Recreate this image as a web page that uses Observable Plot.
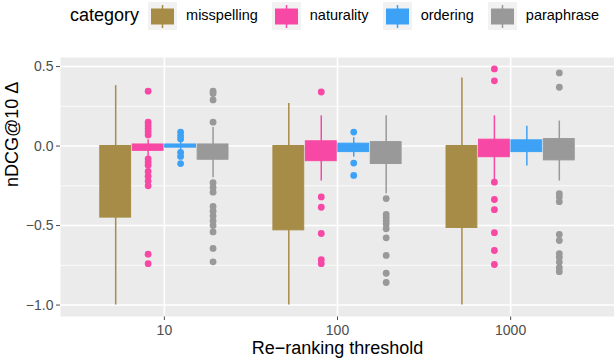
<!DOCTYPE html>
<html>
<head>
<meta charset="utf-8">
<script src="https://cdn.jsdelivr.net/npm/d3@7"></script>
<script src="https://cdn.jsdelivr.net/npm/@observablehq/plot@0.6"></script>
<style>
  html, body { margin: 0; padding: 0; background: #fff; }
  #wrap { width: 614px; font-family: "Liberation Sans", Arial, sans-serif; }
  #legend { display: flex; align-items: center; height: 30px; padding-left: 70px; box-sizing: border-box; }
  #legend .ttl { font-size: 18px; color: #000; margin-right: 9px; }
  #legend .key { width: 29px; height: 28px; background: #F2F2F2; margin-top: 2px; }
  #legend .lab { font-size: 14.5px; color: #000; margin-left: 9px; margin-right: 14px; }
  svg { display: block; }
</style>
</head>
<body>
<div id="wrap">
  <div id="legend"></div>
  <div id="chart"></div>
</div>
<script>
// ---- data ----
const thresholds = ["10", "100", "1000"];
const categories = ["misspelling", "naturality", "ordering", "paraphrase"];
const colors = ["#A68C46", "#F748A5", "#3DA2F6", "#999999"];

// box statistics: one row per category, one value per threshold (10, 100, 1000)
const whiskerLow = [
  [-1.0, -1.0, -1.0],
  [-0.07, -0.22, -0.215],
  [-0.025, -0.07, -0.125],
  [-0.2, -0.3, -0.22]
];
const q1 = [
  [-0.45, -0.53, -0.515],
  [-0.03, -0.095, -0.07],
  [-0.01, -0.038, -0.038],
  [-0.086, -0.113, -0.09]
];
const median = [
  [0.0, 0.0, 0.0],
  [0.0, 0.0, 0.01],
  [0.0, 0.0, 0.0],
  [0.0, 0.0, 0.0]
];
const q3 = [
  [0.0, 0.0, 0.0],
  [0.01, 0.03, 0.04],
  [0.01, 0.015, 0.036],
  [0.01, 0.025, 0.044]
];
const whiskerHigh = [
  [0.38, 0.267, 0.428],
  [0.04, 0.19, 0.19],
  [0.025, 0.053, 0.124],
  [0.116, 0.19, 0.157]
];

// outliers per threshold (10, 100, 1000)
const misspellingOutliers = [[], [], []];
const naturalityOutliers = [
  [0.345, 0.15, 0.13, 0.11, 0.09, 0.07, -0.08, -0.10, -0.12, -0.16, -0.19, -0.22, -0.25, -0.68, -0.74],
  [0.34, -0.32, -0.385, -0.55, -0.715, -0.74],
  [0.485, 0.41, -0.227, -0.336, -0.40, -0.545, -0.657, -0.745]
];
const orderingOutliers = [
  [0.088, 0.065, 0.045, -0.04, -0.065, -0.11],
  [0.088, -0.107, -0.185],
  []
];
const paraphraseOutliers = [
  [0.345, 0.33, 0.29, 0.15, -0.23, -0.26, -0.29, -0.38, -0.41, -0.44, -0.47, -0.50, -0.54, -0.644, -0.728],
  [-0.33, -0.43, -0.45, -0.47, -0.49, -0.52, -0.577, -0.688, -0.80, -0.858],
  [0.46, 0.37, -0.30, -0.32, -0.35, -0.556, -0.594, -0.676, -0.70, -0.73, -0.765, -0.79]
];

const yTicks = [-1.0, -0.5, 0.0, 0.5];
const yMinor = [-0.75, -0.25, 0.25];

// ---- build tables ----
const dodge = 0.1875;      // width of each dodged slot (0.75 / 4)
const halfBox = 0.089;     // half box width
const outlierSets = [misspellingOutliers, naturalityOutliers, orderingOutliers, paraphraseOutliers];

const boxes = [];
const points = [];
thresholds.forEach((t, ti) => {
  categories.forEach((c, ci) => {
    const x = ti + (ci - 1.5) * dodge;
    boxes.push({
      threshold: t, category: c, x,
      lo: whiskerLow[ci][ti], q1: q1[ci][ti], med: median[ci][ti],
      q3: q3[ci][ti], hi: whiskerHigh[ci][ti]
    });
    outlierSets[ci][ti].forEach(v => points.push({threshold: t, category: c, x, y: v}));
  });
});

// ---- legend ----
const legend = document.getElementById("legend");
const ttl = document.createElement("span");
ttl.className = "ttl"; ttl.textContent = "category";
legend.appendChild(ttl);
categories.forEach((c, i) => {
  const k = document.createElement("div");
  k.className = "key";
  k.innerHTML = `<svg width="29" height="28"><line x1="14.5" x2="14.5" y1="3" y2="26" stroke="${colors[i]}" stroke-width="1.5"/><rect x="3" y="6.5" width="23" height="16" fill="${colors[i]}"/></svg>`;
  legend.appendChild(k);
  const l = document.createElement("span");
  l.className = "lab"; l.textContent = c;
  legend.appendChild(l);
});

// ---- chart ----
const chart = Plot.plot({
  width: 614,
  height: 328,
  marginLeft: 60,
  marginRight: 0,
  marginTop: 27,
  marginBottom: 42,
  style: {fontFamily: "Liberation Sans, Arial, sans-serif", fontSize: "14px", color: "#4D4D4D", background: "white"},
  x: {domain: [-0.6, 2.6], ticks: [0, 1, 2], tickFormat: i => thresholds[i], tickSize: 4, tickPadding: 5, label: null},
  y: {domain: [-1.072, 0.557], ticks: yTicks, tickFormat: d3.format(".1f"), tickSize: 4, tickPadding: 3, label: null},
  color: {domain: categories, range: colors},
  marks: [
    Plot.frame({fill: "#EBEBEB"}),
    Plot.ruleY(yMinor, {stroke: "white", strokeWidth: 0.8}),
    Plot.ruleY(yTicks, {stroke: "white", strokeWidth: 1.6}),
    Plot.ruleX([0, 1, 2], {stroke: "white", strokeWidth: 1.6}),
    Plot.ruleX(boxes, {x: "x", y1: "lo", y2: "hi", stroke: "category", strokeWidth: 1.5}),
    Plot.rect(boxes, {x1: d => d.x - halfBox, x2: d => d.x + halfBox, y1: "q1", y2: "q3", fill: "category", stroke: "category", strokeWidth: 1}),
    Plot.ruleY(boxes, {x1: d => d.x - halfBox, x2: d => d.x + halfBox, y: "med", stroke: "category", strokeWidth: 1.5}),
    Plot.dot(points, {x: "x", y: "y", r: 3.4, fill: "category", stroke: null}),
    Plot.text(["Re\u2212ranking threshold"], {text: d => d, frameAnchor: "bottom", dy: 37, fontSize: 18, fill: "black"}),
    Plot.text(["nDCG@10 \u0394"], {text: d => d, frameAnchor: "left", dx: -48, rotate: -90, fontSize: 18, fill: "black"})
  ]
});
document.getElementById("chart").appendChild(chart);
</script>
</body>
</html>
